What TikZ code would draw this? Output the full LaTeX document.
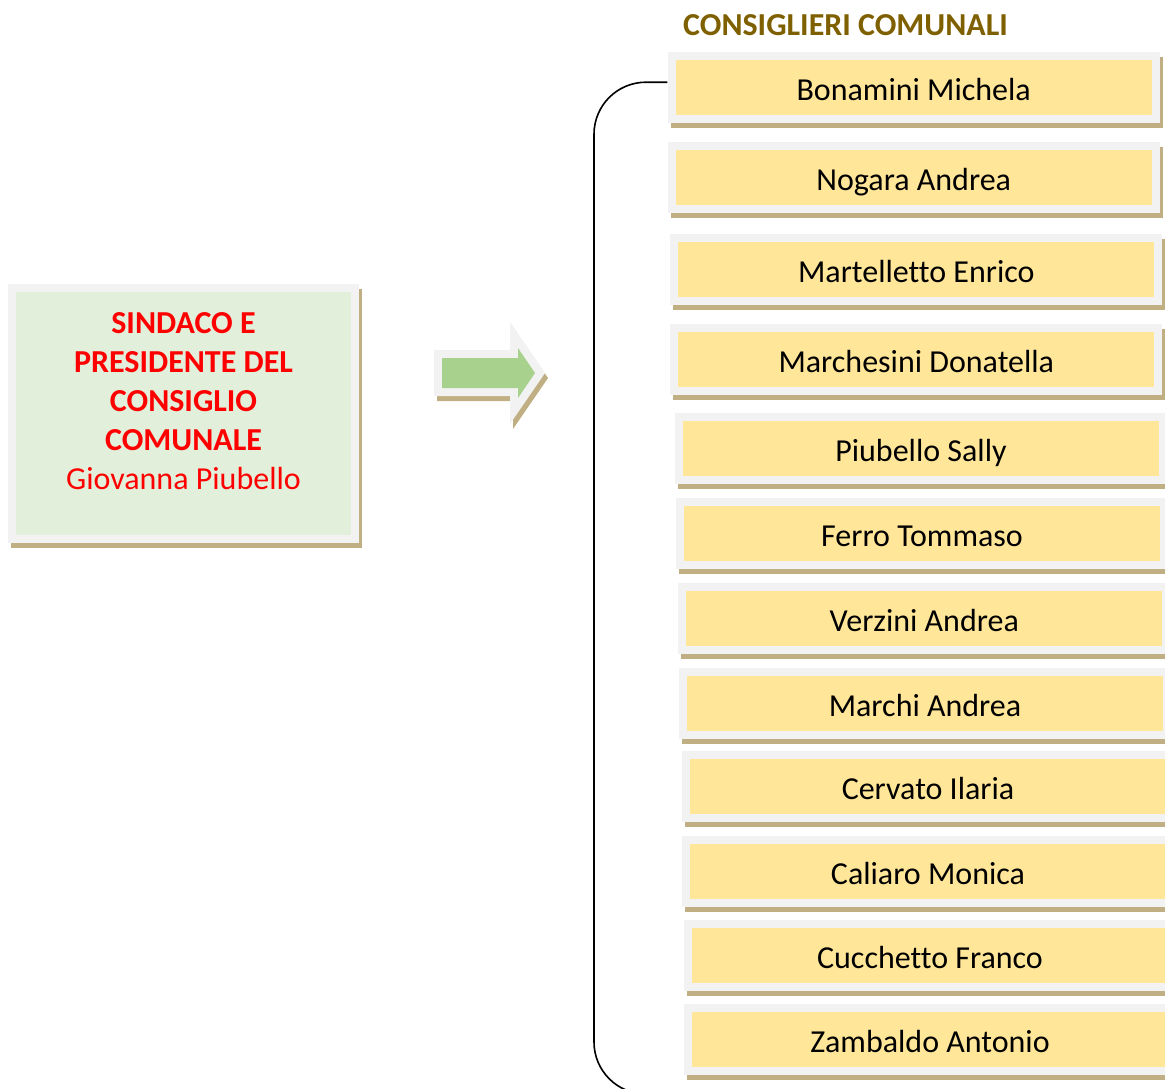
\documentclass[tikz,border=0pt]{standalone}
\usepackage{fontspec}
\setmainfont{Carlito}[Ligatures={NoCommon,NoContextual}]
\usepackage{xcolor}
\usetikzlibrary{shadows}
\definecolor{framegray}{HTML}{F2F2F2}
\definecolor{nameyellow}{HTML}{FFE699}
\definecolor{sindgreen}{HTML}{E2EFDA}
\definecolor{arrowgreen}{HTML}{A9D18E}
\definecolor{shadowtan}{HTML}{C0AF82}
\definecolor{titlebrown}{HTML}{7F6000}

\begin{document}
\begin{tikzpicture}
		[   x=0.5pt, y=-0.5pt,
			cbox/.style={fill=framegray,inner sep=0pt,minimum width=246pt,minimum height=35.5pt,
				drop shadow={shadow xshift=1.5pt,shadow yshift=-2.5pt,fill=shadowtan,opacity=1},
				path picture={\fill[#1] ([shift={(4pt,4pt)}]path picture bounding box.south west) rectangle ([shift={(-4pt,-4pt)}]path picture bounding box.north east);},
				text height=13pt,text depth=0pt,
				font=\fontsize{16}{19.5}\selectfont},
		]
		\tikzset{bracket line/.style={draw=black,line width=0.8pt,rounded corners=26pt}}
		\useasboundingbox (0,0) rectangle (1165,1088);
		\clip (0,0) rectangle (1165,1088);

		\node[font=\bfseries\fontsize{16}{19.5}\selectfont,text=titlebrown] (title) at (845.5,25) {CONSIGLIERI COMUNALI};

		\node[cbox=sindgreen,minimum width=175.5pt,minimum height=129.6pt,text height=,text depth=,
			label={[font=\fontsize{16}{19.5}\selectfont,text=red,align=center,yshift=6.25pt]center:\textbf{SINDACO E}\\\textbf{PRESIDENTE DEL}\\\textbf{CONSIGLIO}\\\textbf{COMUNALE}\\Giovanna Piubello}] (sind) at (183.5,413.7) {};

		% freccia
		\path[fill=framegray,drop shadow={shadow xshift=1.5pt,shadow yshift=-2.5pt,fill=shadowtan,opacity=1}]
			(434,350) -- (510,350) -- (510,322) -- (545,373) -- (510,424) -- (510,396) -- (434,396) -- cycle;
		\fill[arrowgreen] (442,358) -- (518,358) -- (518,348) -- (535,373) -- (518,398) -- (518,388) -- (442,388) -- cycle;

		\node[cbox=nameyellow] (c-1) at (913.7,87.2) {Bonamini Michela};
		\node[cbox=nameyellow] (c-2) at (913.7,177.2) {Nogara Andrea};
		\node[cbox=nameyellow] (c-3) at (916.3,269.8) {Martelletto Enrico};
		\node[cbox=nameyellow] (c-4) at (916.3,359.5) {Marchesini Donatella};
		\node[cbox=nameyellow] (c-5) at (921,448.2) {Piubello Sally};
		\node[cbox=nameyellow] (c-6) at (922,533.5) {Ferro Tommaso};
		\node[cbox=nameyellow] (c-7) at (924.3,618.2) {Verzini Andrea};
		\node[cbox=nameyellow] (c-8) at (925,703.8) {Marchi Andrea};
		\node[cbox=nameyellow] (c-9) at (928,786.5) {Cervato Ilaria};
		\node[cbox=nameyellow] (c-10) at (928,871.5) {Caliaro Monica};
		\node[cbox=nameyellow] (c-11) at (930,955.8) {Cucchetto Franco};
		\node[cbox=nameyellow] (c-12) at (930,1039.5) {Zambaldo Antonio};

		% parentesi
		\coordinate (br-corner) at (594,1094);
		\coordinate (br-end) at (700,1094);
		\path[bracket line] ([yshift=2.5pt]c-1.west) -| (br-corner) -- (br-end);

\end{tikzpicture}
\end{document}
